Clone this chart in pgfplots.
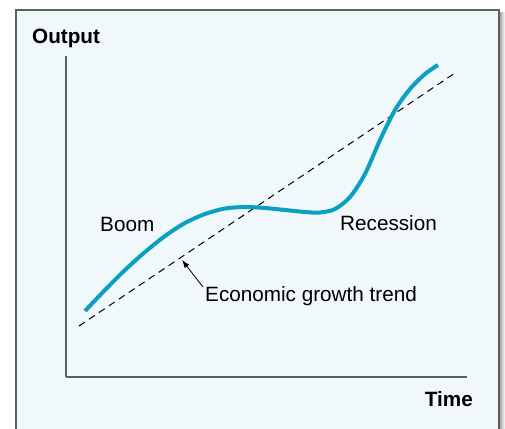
\documentclass[border=0pt]{standalone}
\usepackage{fontspec}
\setmainfont{Liberation Sans}
\usepackage{pgfplots}
\pgfplotsset{compat=1.18}
\usetikzlibrary{arrows.meta}
\definecolor{bg}{HTML}{F1F8FB}
\definecolor{curvecol}{HTML}{0AA0BF}
\definecolor{axisgray}{HTML}{5A5F62}
\newcommand\lbl{\fontsize{20.7bp}{24bp}\selectfont}
\begin{document}
\begin{tikzpicture}
\begin{scope}[x=1bp,y=1bp]
\useasboundingbox (0,0) rectangle (505,428);
\shade[left color=black!40, right color=white] (499,-5) rectangle (505,415);
\fill[bg] (16,-5) rectangle (499,418);
\draw[axisgray, line width=1.5bp] (16,-5) -- (16,418) -- (499,418) -- (499,-5);
\end{scope}
\begin{axis}[
  at={(66bp,51bp)}, anchor=south west,
  scale only axis, width=401bp, height=321bp,
  xmin=66, xmax=467, ymin=51, ymax=372,
  axis x line=bottom, axis y line=left,
  axis line style={-, axisgray, line width=1.3bp},
  ticks=none, clip=false,
]
\addplot[black, line width=1bp, dash pattern=on 7bp off 5bp] coordinates {(79,102) (455,355)};
\addplot[curvecol, line width=4bp, smooth, tension=0.5] coordinates {
(85,117) (105,138) (125,158) (145,176) (165,192) (185,205) (205,214) (225,219.5)
(245,221) (265,220) (285,218) (305,216) (320,215.5) (335,219) (350,231) (365,254)
(380,288) (395,318) (410,339) (425,354) (438,363)};
\addplot[black, line width=0.8bp, -{Latex[length=8bp,width=5.5bp]}] coordinates {(203,141) (182,168)};
\node[anchor=base west, inner sep=0] at (axis cs:32,384) {\lbl\bfseries Output};
\node[anchor=base east, inner sep=0] at (axis cs:473,22) {\lbl\bfseries Time};
\node[anchor=base west, inner sep=0] at (axis cs:100,197) {\lbl Boom};
\node[anchor=base west, inner sep=0] at (axis cs:340,198) {\lbl Recession};
\node[anchor=base west, inner sep=0] at (axis cs:205,127) {\lbl Economic growth trend};
\end{axis}
\end{tikzpicture}
\end{document}
